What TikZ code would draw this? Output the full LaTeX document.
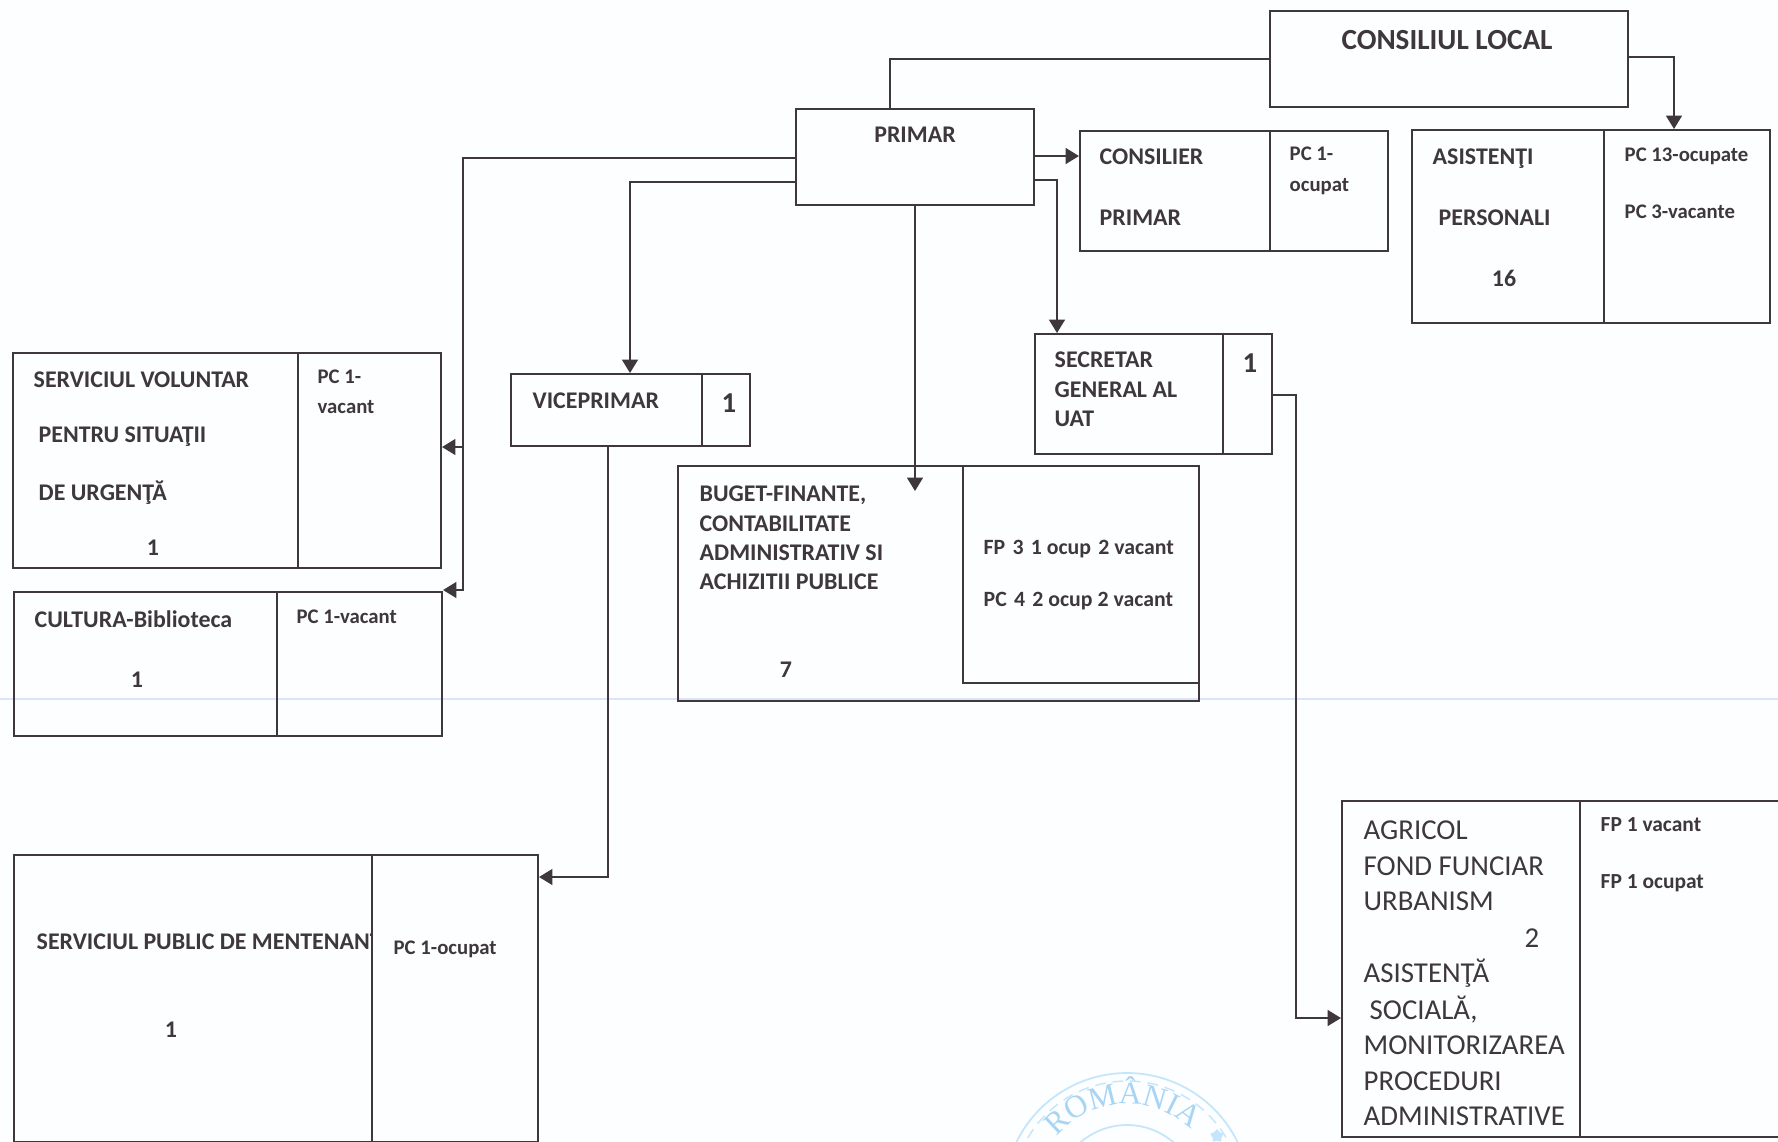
\documentclass[tikz,border=0pt]{standalone}
\usepackage{fontspec}
\setmainfont{Carlito}
\newfontfamily\stampfont{Liberation Serif}
\usepackage{xcolor}
\usetikzlibrary{arrows.meta}
\usetikzlibrary{decorations.text}
\usetikzlibrary{shapes.geometric}
\definecolor{ink}{HTML}{3E383B}
\definecolor{paper}{HTML}{FDFEFF}
\definecolor{stampblue}{HTML}{C4E6FB}
\definecolor{stamptext}{HTML}{A9D5F5}
\definecolor{scanline}{HTML}{DCE5F7}
\tikzset{
  cell/.style={draw=ink,line width=0.55pt,inner sep=0pt,anchor=north west},
  lnk/.style={draw=ink,line width=0.55pt},
  arr/.style={lnk,-{Triangle[length=3.8pt,width=4.5pt]}},
  lbl/.style={text=ink,inner sep=0pt,anchor=west,font=\bfseries\fontsize{6.8}{8}\selectfont},
  pclbl/.style={lbl,font=\bfseries\fontsize{5.9}{7}\selectfont},
  nr/.style={lbl,anchor=center,font=\bfseries\fontsize{6.8}{8}\selectfont},
  plain/.style={text=ink,inner sep=0pt,anchor=west,font=\fontsize{8.2}{10}\selectfont},
}
\begin{document}
\begin{tikzpicture}[x=0.01cm,y=-0.01cm]
  \path[use as bounding box,fill=paper] (0,0) rectangle (1778,1141);
  \clip (0,0) rectangle (1778,1141);
  \draw[scanline,line width=0.3pt] (0,699) -- (1778,699);

  % stamp
  \draw[stampblue,line width=0.5pt] (1127,1196) circle (123);
  \draw[stampblue,line width=0.4pt,densely dashed] (1127,1196) circle (115);
  \draw[stampblue,line width=0.5pt] (1127,1196) circle (71);
  \path[decorate,decoration={text along path,text align=center,
        text={|\stampfont\fontsize{9}{9}\selectfont\color{stamptext}|ROMÂNIA}}]
        (1058.6,1134.4) arc[start angle=138,end angle=48,radius=0.92cm];
  \node[star,star points=5,fill=stampblue,inner sep=0pt,minimum size=4pt] (stampstar) at (1217,1136) {};

  % boxes
  \node[cell,minimum width=3.58cm,minimum height=0.96cm] (consiliu) at (1269,10) {};
  \node[cell,minimum width=2.38cm,minimum height=0.96cm] (primar) at (795,108) {};
  \node[cell,minimum width=1.90cm,minimum height=1.2cm] (consilier) at (1079,130) {};
  \node[cell,minimum width=1.18cm,minimum height=1.2cm] (consilierpc) at (1269,130) {};
  \node[cell,minimum width=1.92cm,minimum height=1.93cm] (asistenti) at (1411,129) {};
  \node[cell,minimum width=1.66cm,minimum height=1.93cm] (asistentipc) at (1603,129) {};
  \node[cell,minimum width=1.88cm,minimum height=1.2cm] (secretar) at (1034,333) {};
  \node[cell,minimum width=0.49cm,minimum height=1.2cm] (secretarnr) at (1222,333) {};
  \node[cell,minimum width=1.91cm,minimum height=0.72cm] (vice) at (510,373) {};
  \node[cell,minimum width=0.48cm,minimum height=0.72cm] (vicenr) at (701,373) {};
  \node[cell,minimum width=2.85cm,minimum height=2.15cm] (voluntar) at (12,352) {};
  \node[cell,minimum width=1.43cm,minimum height=2.15cm] (voluntarpc) at (297,352) {};
  \node[cell,minimum width=2.63cm,minimum height=1.44cm] (cultura) at (13,591) {};
  \node[cell,minimum width=1.65cm,minimum height=1.44cm] (culturapc) at (276,591) {};
  \node[cell,minimum width=5.21cm,minimum height=2.35cm] (buget) at (677,465) {};
  \node[cell,minimum width=2.36cm,minimum height=2.17cm] (bugetpc) at (962,465) {};
  \node[cell,minimum width=3.58cm,minimum height=2.87cm] (mentenanta) at (13,854) {};
  \node[cell,minimum width=1.66cm,minimum height=2.87cm] (mentenantapc) at (371,854) {};
  \node[cell,minimum width=2.38cm,minimum height=3.36cm] (agricol) at (1341,800) {};
  \node[cell,minimum width=2.1cm,minimum height=3.36cm] (agricolpc) at (1579,800) {};

  % connectors
  \coordinate (trunk) at (463,447);
  \coordinate (bugettip) at (915,491);
  \coordinate (agrbend) at (1296,1018);
  \draw[lnk] (consiliu.west |- 0,59) -| (primar.north -| 890,0);
  \draw[arr] (consiliu.east |- 0,57) -| (asistenti.north -| 1674,0);
  \draw[arr] (primar.east |- 0,156) -- (consilier.west |- 0,156);
  \draw[arr] (primar.east |- 0,180) -| (secretar.north -| 1057,0);
  \draw[arr] (primar.south -| bugettip) -- (bugettip);
  \draw[arr] (primar.west |- 0,182) -| (vice.north -| 630,0);
  \draw[arr] (primar.west |- 0,158) -| (trunk) -- (voluntarpc.east |- trunk);
  \draw[arr] (trunk) |- (culturapc.east |- 0,590);
  \draw[arr] (vice.south -| 608,0) |- (mentenantapc.east |- 0,877);
  \draw[arr] (secretarnr.east |- 0,395) -| (agrbend) -- (agricol.west |- agrbend);

  % labels
  \node[lbl,anchor=center,font=\bfseries\fontsize{8.3}{10}\selectfont] (tconsiliu) at (1447,40) {CONSILIUL LOCAL};
  \node[lbl,anchor=center] (tprimar) at (915,135) {PRIMAR};
  \node[lbl] (tconsilier) at (1099,157) {CONSILIER};
  \node[lbl] (tconsilier2) at (1099,218) {PRIMAR};
  \node[pclbl] (pconsilier) at (1289,154) {PC 1-};
  \node[pclbl] (pconsilier2) at (1289,187) {ocupat};
  \node[lbl] (tasistenti) at (1432,159) {ASISTENŢI};
  \node[lbl] (tasistenti2) at (1438,218) {PERSONALI};
  \node[nr] (nasistenti) at (1504,278) {16};
  \node[pclbl] (pasistenti) at (1624,156) {PC 13-ocupate};
  \node[pclbl] (pasistenti2) at (1624,212) {PC 3-vacante};
  \node[lbl] (tsecretar) at (1054,360) {SECRETAR};
  \node[lbl] (tsecretar2) at (1054,390) {GENERAL AL};
  \node[lbl] (tsecretar3) at (1054,419) {UAT};
  \node[nr,font=\bfseries\fontsize{8.2}{10}\selectfont] (nsecretar) at (1250,363) {1};
  \node[lbl] (tvice) at (532,401) {VICEPRIMAR};
  \node[nr,font=\bfseries\fontsize{8.2}{10}\selectfont] (nvice) at (729,403) {1};
  \node[lbl] (tvoluntar) at (33,380) {SERVICIUL VOLUNTAR};
  \node[lbl] (tvoluntar2) at (38,437) {PENTRU SITUAŢII};
  \node[lbl] (tvoluntar3) at (38,493) {DE URGENŢĂ};
  \node[nr] (nvoluntar) at (153,548) {1};
  \node[pclbl] (pvoluntar) at (317,377) {PC 1-};
  \node[pclbl] (pvoluntar2) at (317,407) {vacant};
  \node[lbl] (tcultura) at (34,619) {CULTURA-Biblioteca};
  \node[nr] (ncultura) at (137,680) {1};
  \node[pclbl] (pcultura) at (296,617) {PC 1-vacant};
  \node[lbl] (tbuget) at (699,495) {BUGET-FINANTE,};
  \node[lbl] (tbuget2) at (699,524) {CONTABILITATE};
  \node[lbl] (tbuget3) at (699,553) {ADMINISTRATIV SI};
  \node[lbl] (tbuget4) at (699,582) {ACHIZITII PUBLICE};
  \node[nr] (nbuget) at (786,670) {7};
  \node[pclbl,font=\bfseries\fontsize{6.2}{7}\selectfont] (pbuget) at (983,549) {FP\,\,3\,\,1 ocup\,\,2 vacant};
  \node[pclbl,font=\bfseries\fontsize{6.2}{7}\selectfont] (pbuget2) at (983,601) {PC\,\,4\,\,2 ocup 2 vacant};
  \begin{scope}
    \clip (13,854) rectangle (371,1141);
    \node[lbl] (tmentenanta) at (36,942) {SERVICIUL PUBLIC DE MENTENANT};
  \end{scope}
  \node[nr] (nmentenanta) at (171,1030) {1};
  \node[pclbl] (pmentenanta) at (393,949) {PC 1-ocupat};
  \node[plain] (tagricol) at (1363,830) {AGRICOL};
  \node[plain] (tagricol2) at (1363,866) {FOND FUNCIAR};
  \node[plain] (tagricol3) at (1363,901) {URBANISM};
  \node[plain,anchor=center] (nagricol) at (1532,938) {2};
  \node[plain] (tagricol4) at (1363,973) {ASISTENŢĂ};
  \node[plain] (tagricol5) at (1369,1010) {SOCIALĂ,};
  \node[plain] (tagricol6) at (1363,1045) {MONITORIZAREA};
  \node[plain] (tagricol7) at (1363,1081) {PROCEDURI};
  \node[plain] (tagricol8) at (1363,1116) {ADMINISTRATIVE};
  \node[pclbl,font=\bfseries\fontsize{6.1}{7}\selectfont] (pagricol) at (1600,825) {FP 1 vacant};
  \node[pclbl,font=\bfseries\fontsize{6.1}{7}\selectfont] (pagricol2) at (1600,883) {FP 1 ocupat};
\end{tikzpicture}
\end{document}
